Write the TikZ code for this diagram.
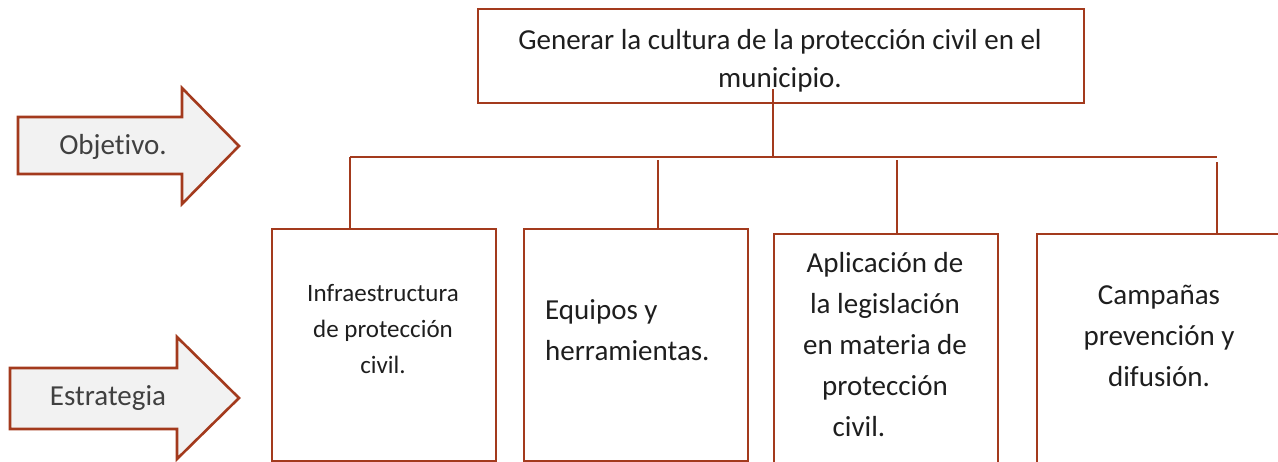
\documentclass[tikz,border=0pt]{standalone}
\usepackage{fontspec}
\setmainfont{Carlito}[Ligatures=NoCommon]
\definecolor{rust}{HTML}{A33A1D}
\definecolor{pale}{HTML}{F2F2F2}
\definecolor{ink}{HTML}{1E1E1E}
\begin{document}
\begin{tikzpicture}[x=1pt,y=-1pt,
  box/.style={draw=rust,line width=2.4pt,rectangle,anchor=north west,inner sep=0pt},
  txt/.style={text=ink,align=center,inner sep=0pt,font=\fontsize{29}{41}\selectfont},
  link/.style={draw=rust,line width=2.4pt},
  tag/.style={draw=rust,fill=pale,line width=2.6pt,line join=miter}]
   \useasboundingbox (0,0) rectangle (1278,461);
   \clip (0,0) rectangle (1278,461);
   %arrows
   \draw[tag] (18,117) -- (182,117) -- (182,88) -- (239,146) -- (182,204) -- (182,174) -- (18,174) -- cycle;
   \node[txt,text=ink!85] (obj) at (113,147) {Objetivo.};
   \draw[tag] (10,368) -- (177,368) -- (177,337) -- (239,398) -- (177,459) -- (177,429) -- (10,429) -- cycle;
   \node[txt,text=ink!85] (estr) at (108,398) {Estrategia};
   %top
   \node[box,minimum width=606,minimum height=94] (goal) at (477,8) {};
   \node[txt,font=\fontsize{29}{38}\selectfont] (goaltxt) at (780,61) {Generar la cultura de la protección civil en el\\municipio.};
   %boxes
   \node[box,minimum width=224,minimum height=232] (infra) at (271,228) {};
   \node[txt,font=\fontsize{25}{36}\selectfont] (infratxt) at (383,329) {Infraestructura\\de protección\\civil.};
   \node[box,minimum width=224,minimum height=232] (equip) at (523,228) {};
   \node[txt,align=left,anchor=west] (equiptxt) at (545,330) {Equipos y\\herramientas.};
   \node[box,minimum width=224,minimum height=260] (legis) at (773,233) {};
   \node[txt] (legistxt) at (885,345) {Aplicación de\\la legislación\\en materia de\\protección\\civil.\kern52pt};
   \node[box,minimum width=300,minimum height=260] (camp) at (1036,233) {};
   \node[txt] (camptxt) at (1159,336) {Campañas\\prevención y\\difusión.};
   %links
   \coordinate (stem) at (773,89);
   \coordinate (busL) at (350,157);
   \coordinate (busR) at (1217,157);
   \draw[link] (stem) -- (stem |- busL);
   \draw[link] (busL) -- (busR);
   \foreach \x/\y/\b in {350/157/infra,658/160/equip,897/160/legis,1217/162/camp}
     \draw[link] (\x,\y) -- (\x,\y |- \b.north);
\end{tikzpicture}
\end{document}
